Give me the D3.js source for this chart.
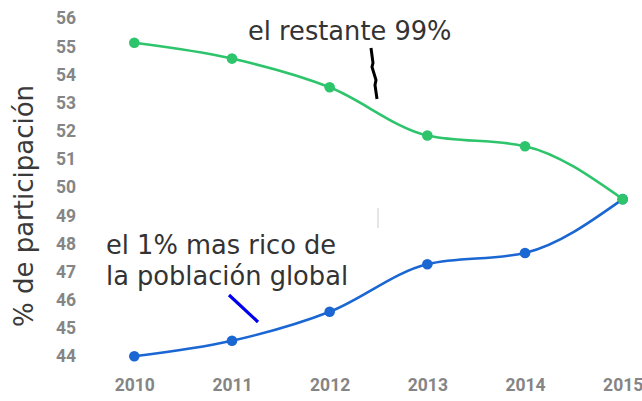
<!DOCTYPE html>
<html>
<head>
<meta charset="utf-8">
<script src="https://cdn.jsdelivr.net/npm/d3@7"></script>
<style>
  html, body { margin: 0; padding: 0; background: #fff; }
  svg { display: block; }
</style>
</head>
<body>
<svg id="chart" width="642" height="401"></svg>
<script>
// ---- data ----
const years = [2010, 2011, 2012, 2013, 2014, 2015];
const rest99 = [55.13, 54.57, 53.55, 51.84, 51.46, 49.58];
const top1 = [44.0, 44.55, 45.58, 47.27, 47.67, 49.58];
const yTicks = [44, 45, 46, 47, 48, 49, 50, 51, 52, 53, 54, 55, 56];
const yTitle = "% de participación";
const labelRest = ["el restante 99%"];
const labelTop = ["el 1% mas rico de", "la población global"];

const svg = d3.select("#chart");
const x = d3.scaleLinear().domain([2010, 2015]).range([134.3, 622.7]);
const y = d3.scaleLinear().domain([44, 56]).range([356.3, 18.3]);

const tickStyle = sel => sel
  .attr("fill", "#858585")
  .style("font-family", "Roboto, sans-serif")
  .style("font-size", "17.5px")
  .style("font-weight", "bold");

// y axis
const yAxis = svg.append("g")
  .attr("transform", "translate(76,0)")
  .call(d3.axisLeft(y).tickValues(yTicks).tickSize(0).tickPadding(0).tickFormat(d3.format("d")));
yAxis.select(".domain").remove();
yAxis.selectAll("text").call(tickStyle);

// x axis
const xAxis = svg.append("g")
  .attr("transform", "translate(0,376)")
  .call(d3.axisBottom(x).tickValues(years).tickSize(0).tickPadding(3).tickFormat(d3.format("d")));
xAxis.select(".domain").remove();
xAxis.selectAll("text").call(tickStyle);

// y title
svg.append("text")
  .attr("transform", "translate(33,206) rotate(-90)")
  .attr("text-anchor", "middle")
  .attr("fill", "#3a3a3a")
  .style("font-family", "'DejaVu Sans', sans-serif")
  .style("font-size", "26px")
  .text(yTitle);

const line = d3.line().x((d, i) => x(years[i])).y(d => y(d)).curve(d3.curveMonotoneX);

const series = [
  { values: top1, color: "#1a66d2" },
  { values: rest99, color: "#2dc46c" }
];

series.forEach(s => {
  svg.append("path")
    .attr("d", line(s.values))
    .attr("fill", "none")
    .attr("stroke", s.color)
    .attr("stroke-width", 2.6);
  svg.append("g").selectAll("circle")
    .data(s.values)
    .join("circle")
    .attr("cx", (d, i) => x(years[i]))
    .attr("cy", d => y(d))
    .attr("r", 5.3)
    .attr("fill", s.color);
});

// annotations
const annoFont = "'DejaVu Sans', sans-serif";
svg.append("text")
  .attr("x", 248).attr("y", 40)
  .attr("fill", "#333")
  .style("font-family", annoFont)
  .style("font-size", "25.7px")
  .text(labelRest[0]);

svg.append("g").selectAll("text")
  .data(labelTop)
  .join("text")
  .attr("x", 106)
  .attr("y", (d, i) => 254 + i * 31)
  .attr("fill", "#333")
  .style("font-family", annoFont)
  .style("font-size", "25.7px")
  .text(d => d);

// pointer strokes
svg.append("path")
  .attr("d", "M371,48 L373,63 L372,67 L376,80 L375,85 L377,99")
  .attr("fill", "none").attr("stroke", "#000").attr("stroke-width", 3);
svg.append("line")
  .attr("x1", 229).attr("y1", 295).attr("x2", 258).attr("y2", 322)
  .attr("stroke", "#0000ee").attr("stroke-width", 3.2);
svg.append("line")
  .attr("x1", 378).attr("y1", 208).attr("x2", 378).attr("y2", 228)
  .attr("stroke", "#dddddd").attr("stroke-width", 1.5);
</script>
</body>
</html>
